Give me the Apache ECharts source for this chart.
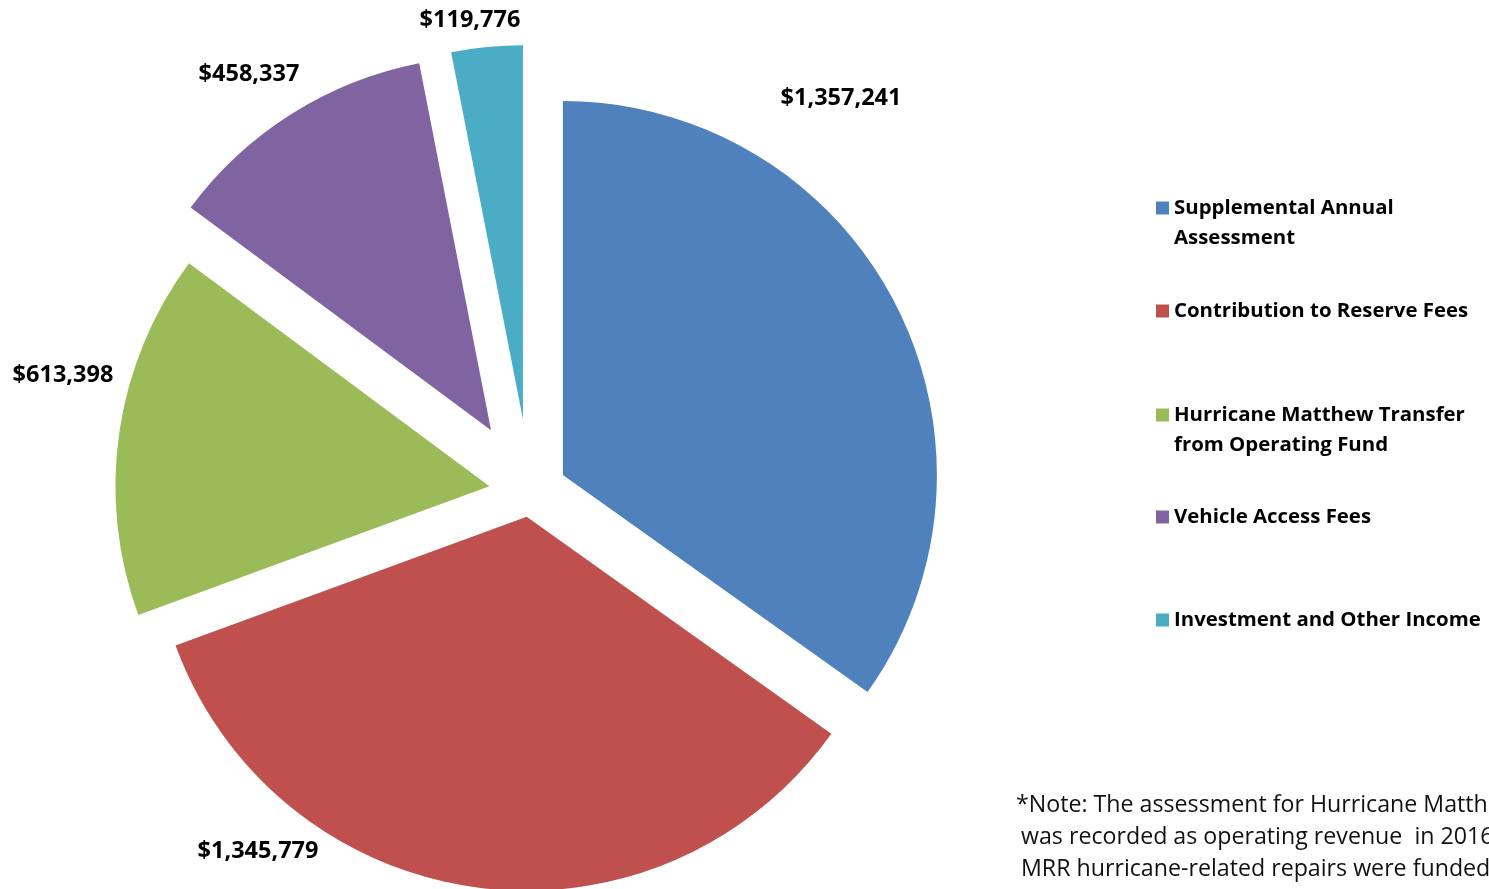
<!DOCTYPE html>
<html><head><meta charset="utf-8">
<script src="https://cdn.jsdelivr.net/npm/echarts@6/dist/echarts.min.js"></script>
<style>html,body{margin:0;padding:0;background:#fff}#c{width:1489px;height:889px}</style>
</head><body><div id="c"></div>
<script>
// ---- data ----
const categories = ['Supplemental Annual Assessment', 'Contribution to Reserve Fees', 'Hurricane Matthew Transfer from Operating Fund', 'Vehicle Access Fees', 'Investment and Other Income'];
const values = [1357241, 1345779, 613398, 458337, 119776];
const legendLabels = ['Supplemental Annual\nAssessment', 'Contribution to Reserve Fees', 'Hurricane Matthew Transfer\nfrom Operating Fund', 'Vehicle Access Fees', 'Investment and Other Income'];
const noteLines = ['*Note: The assessment for Hurricane Matthew', 'was recorded as operating revenue  in 2016 and', 'MRR hurricane-related repairs were funded by a transfer'];

// ---- styles / layout ----
const colors = ['#4F81BD', '#C0504D', '#9BBB59', '#8064A2', '#4BACC6'];
const explode = [37, 25, 41, 73, 73];
const labelPos = [[841, 98], [258, 851], [63, 375], [249, 74], [470, 20]];
const legendIconY = [208, 311, 415, 517, 620];
const pieCenter = [530, 492];
const FONT = 'Open Sans';

const fmt = v => '$' + v.toLocaleString('en-US');
const total = values.reduce((a, b) => a + b, 0);

let cum = 0;
const series = categories.map((_, i) => {
  const mid = (cum + values[i] / 2) / total * 2 * Math.PI;
  cum += values[i];
  const c = [pieCenter[0] + explode[i] * Math.sin(mid), pieCenter[1] - explode[i] * Math.cos(mid)];
  return {
    type: 'pie',
    center: c,
    radius: 374,
    startAngle: 90,
    clockwise: true,
    avoidLabelOverlap: false,
    animation: false,
    silent: true,
    emphasis: { disabled: true },
    itemStyle: { borderWidth: 0 },
    label: { position: 'outside', formatter: p => fmt(p.value), fontFamily: FONT, fontWeight: 'bold', fontSize: 23.5, color: '#000' },
    labelLine: { show: false },
    labelLayout: p => p.dataIndex === i ? { x: labelPos[i][0], y: labelPos[i][1], align: 'center', verticalAlign: 'middle' } : {},
    data: categories.map((n, j) => ({
      name: n, value: values[j],
      itemStyle: { color: j === i ? colors[j] : 'rgba(0,0,0,0)', borderWidth: 0 },
      label: { show: j === i },
      labelLine: { show: false }
    }))
  };
});

const legends = categories.map((n, i) => {
  const two = legendLabels[i].indexOf('\n') >= 0;
  return {
    orient: 'vertical', left: 1151, top: legendIconY[i] - (two ? 45 : 15) - 5,
    itemWidth: 13, itemHeight: 13, icon: 'rect', selectedMode: false,
    data: [{ name: n, itemStyle: { color: colors[i] } }],
    formatter: () => (two ? '\n' : '') + legendLabels[i],
    textStyle: { fontFamily: FONT, fontWeight: 'bold', fontSize: 20.4, color: '#000', lineHeight: 30 }
  };
});

const graphic = noteLines.map((t, k) => ({
  type: 'text', x: k === 0 ? 1016 : 1021, y: 805 + k * 32,
  style: { text: t, fontFamily: FONT, fontSize: 23.2, fill: '#111', verticalAlign: 'middle' }
}));

const chart = echarts.init(document.getElementById('c'), null, { renderer: 'canvas' });
chart.setOption({ animation: false, backgroundColor: '#fff', legend: legends, series, graphic });
</script></body></html>
